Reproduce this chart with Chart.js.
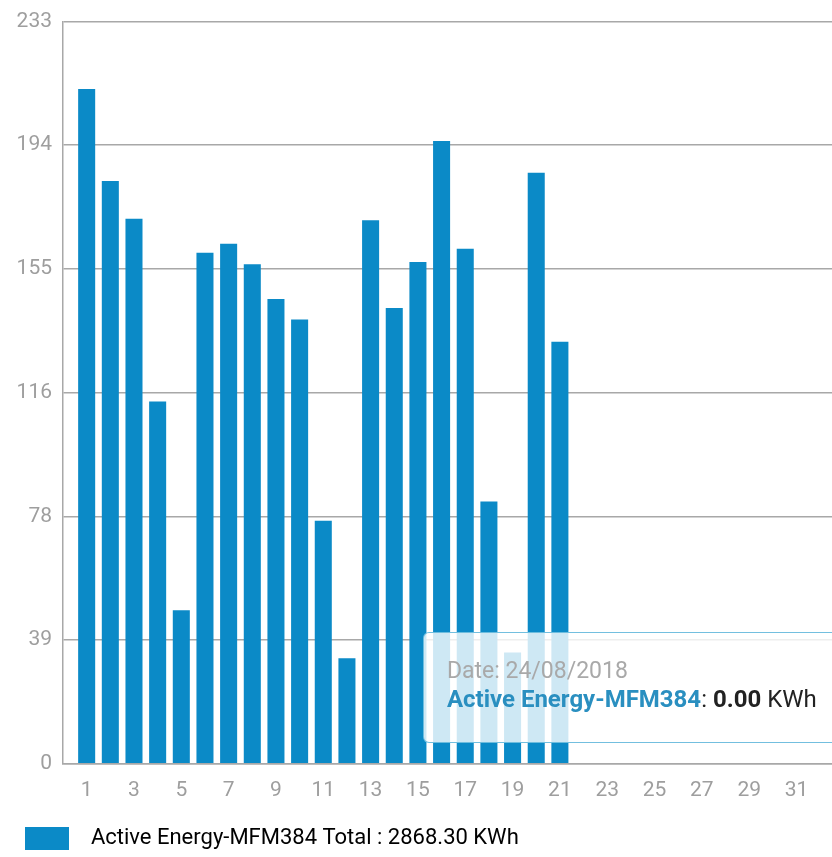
<!DOCTYPE html>
<html>
<head>
<meta charset="utf-8">
<script src="https://cdn.jsdelivr.net/npm/chart.js@4/dist/chart.umd.min.js"></script>
<style>
  html, body { margin: 0; padding: 0; background: #fff; overflow: hidden; }
  #wrap { position: relative; width: 832px; height: 857px; }
  #tip {
    position: absolute;
    box-sizing: border-box;
    width: 416px;
    height: 111px;
    padding: 24px 0 0 23px;
    background: rgba(255, 255, 255, 0.8);
    border: 1.5px solid rgba(100, 184, 220, 0.9);
    border-radius: 6px;
    font-family: Roboto, sans-serif;
    font-size: 23px;
    line-height: 28px;
    white-space: nowrap;
    display: none;
  }
  #tip .date { color: #a9a9a9; }
  #tip .row { color: #222; font-size: 24px; }
  #tip .name { color: #2a8fc0; font-weight: bold; }
  #tip .val { font-weight: bold; }
</style>
</head>
<body>
<div id="wrap">
  <canvas id="energyChart" width="832" height="857"></canvas>
  <div id="tip"></div>
</div>
<script>
// data
const days = [1, 2, 3, 4, 5, 6, 7, 8, 9, 10, 11, 12, 13, 14, 15, 16, 17, 18, 19, 20, 21, 22, 23, 24, 25, 26, 27, 28, 29, 30, 31];
const energy = [211.8, 182.9, 171.1, 113.7, 48.2, 160.4, 163.2, 156.8, 145.9, 139.5, 76.3, 33.1, 170.6, 143.1, 157.5, 195.5,
  161.7, 82.3, 34.9, 185.5, 132.5, 0, 0, 0, 0, 0, 0, 0, 0, 0, 0];
const xTicks = [1, 3, 5, 7, 9, 11, 13, 15, 17, 19, 21, 23, 25, 27, 29, 31];
const yTickLabels = ["0", "39", "78", "116", "155", "194", "233"];
const yMax = 233;
const seriesName = "Active Energy-MFM384";
const totalKWh = "2868.30";
const monthYear = "/08/2018";
const hoverDay = 24;

const barColor = "#0b8ac7";
const gridColor = "#a8a8a8";
const tickColor = "#9e9e9e";

Chart.defaults.font.family = "Roboto, sans-serif";

const tipEl = document.getElementById("tip");

// html tooltip so the value can be bold and the unit plain
function drawTip(context) {
  const tooltip = context.tooltip;
  if (tooltip.opacity === 0 || !tooltip.dataPoints || !tooltip.dataPoints.length) {
    tipEl.style.display = "none";
    return;
  }
  const pt = tooltip.dataPoints[0];
  const day = days[pt.dataIndex];
  const dd = day < 10 ? "0" + day : "" + day;
  tipEl.innerHTML =
    '<div class="date">Date: ' + dd + monthYear + '</div>' +
    '<div class="row"><span class="name">' + seriesName + '</span>: ' +
    '<span class="val">' + energy[pt.dataIndex].toFixed(2) + '</span> KWh</div>';
  tipEl.style.display = "block";
  tipEl.style.left = (tooltip.caretX - 208) + "px";
  tipEl.style.top = (tooltip.caretY - 21 - 111) + "px";
}

// small nudge so the legend sits where the app drew it
const legendShift = {
  id: "legendShift",
  afterLayout(chart) {
    const lg = chart.legend;
    lg.left += 3;
    lg.right += 3;
    lg.top += 3;
    lg.bottom += 3;
  }
};

const ctx = document.getElementById("energyChart").getContext("2d");

const energyChart = new Chart(ctx, {
  type: "bar",
  data: {
    datasets: [
      {
        label: seriesName,
        data: days.map((d, i) => ({ x: d, y: energy[i] })),
        backgroundColor: barColor,
        borderWidth: 0,
        categoryPercentage: 0.8,
        barPercentage: 0.9
      }
    ]
  },
  plugins: [legendShift],
  options: {
    responsive: false,
    animation: false,
    events: [],
    layout: {
      padding: { top: 0, left: 15, right: 0, bottom: 0 }
    },
    plugins: {
      legend: {
        position: "bottom",
        align: "start",
        labels: {
          boxWidth: 44,
          boxHeight: 23,
          padding: 7,
          color: "#333",
          font: { size: 22 },
          generateLabels: chart => [{
            text: "  " + seriesName + " Total : " + totalKWh + " KWh",
            fillStyle: barColor,
            strokeStyle: barColor,
            lineWidth: 0,
            hidden: false,
            datasetIndex: 0
          }]
        }
      },
      tooltip: {
        enabled: false,
        external: drawTip
      }
    },
    scales: {
      x: {
        type: "linear",
        min: 0,
        max: 32.5,
        offset: false,
        grid: { display: false, drawTicks: false },
        border: { display: true, color: gridColor, width: 1.5 },
        afterBuildTicks: scale => {
          scale.ticks = xTicks.map(v => ({ value: v }));
        },
        ticks: {
          color: tickColor,
          font: { size: 21 },
          padding: 14,
          maxRotation: 0,
          autoSkip: false,
          callback: v => "" + v
        }
      },
      y: {
        min: 0,
        max: yMax,
        grid: { color: gridColor, lineWidth: 1.5, drawTicks: false },
        border: { display: true, color: gridColor, width: 1.5 },
        afterBuildTicks: scale => {
          scale.ticks = yTickLabels.map((_, i) => ({ value: i * yMax / (yTickLabels.length - 1) }));
        },
        afterFit: scale => {
          scale.width = 48;
        },
        ticks: {
          color: tickColor,
          font: { size: 21, lineHeight: 1.0 },
          padding: 11,
          callback: (v, i) => yTickLabels[i]
        }
      }
    }
  }
});

energyChart.tooltip.setActiveElements([{ datasetIndex: 0, index: days.indexOf(hoverDay) }], { x: 0, y: 0 });
energyChart.update();
drawTip({ chart: energyChart, tooltip: energyChart.tooltip });
</script>
</body>
</html>
